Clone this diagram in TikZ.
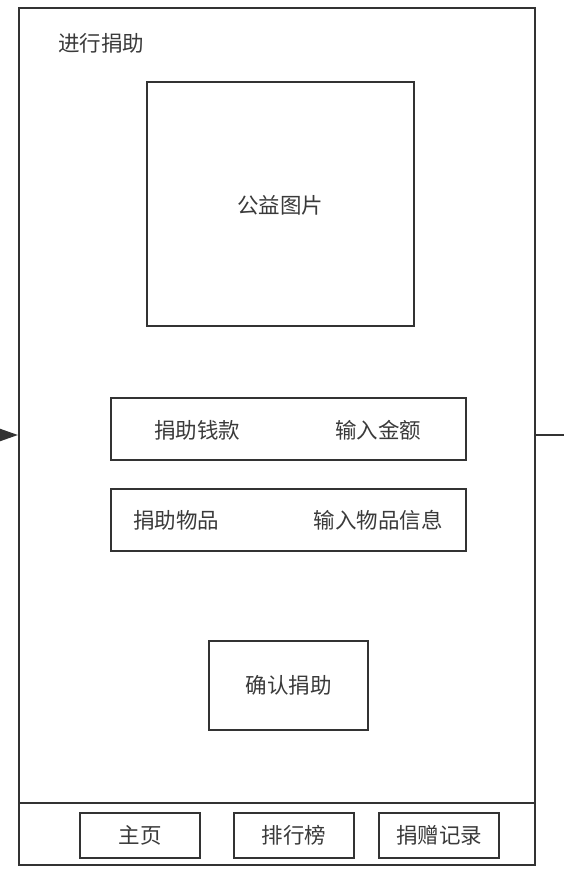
\documentclass[tikz,border=0pt]{standalone}
\usepackage{fontspec}
\setmainfont{Noto Sans CJK SC}
\usetikzlibrary{arrows.meta}
\definecolor{linegray}{HTML}{333333}
\definecolor{textgray}{HTML}{3A3A3A}

\begin{document}
\begin{tikzpicture}[x=1pt,y=-1pt,
		frame/.style={draw=linegray,line width=2pt,inner sep=0pt,anchor=north west},
		label/.style={text=textgray,font=\fontsize{21.5}{24}\selectfont,inner sep=0pt}]
			\useasboundingbox (0,0) rectangle (564,873);
			\node[frame,minimum width=516pt,minimum height=857pt] (screen) at (18,7) {};
			\draw[linegray,line width=2pt] (18,803)--(534,803);
			\node[label] (title) at (101,43) {进行捐助};
			\node[frame,minimum width=267pt,minimum height=244pt] (pic) at (146,81) {};
			\node[label] (pictext) at (280,205) {公益图片};
			\node[frame,minimum width=355pt,minimum height=62pt] (money) at (110,397) {};
			\node[label] (moneyname) at (197,430) {捐助钱款};
			\node[label] (moneyinput) at (378,430) {输入金额};
			\node[frame,minimum width=355pt,minimum height=62pt] (goods) at (110,488) {};
			\node[label] (goodsname) at (176,520) {捐助物品};
			\node[label] (goodsinput) at (378,520) {输入物品信息};
			\node[frame,minimum width=159pt,minimum height=89pt] (confirm) at (208,640) {};
			\node[label] (confirmtext) at (confirm.center) {确认捐助};
			% bottom bar
			\node[frame,minimum width=120pt,minimum height=45pt] (home) at (79,812) {};
			\node[label] at (home.center) {主页};
			\node[frame,minimum width=120pt,minimum height=45pt] (rank) at (233,812) {};
			\node[label] at (rank.center) {排行榜};
			\node[frame,minimum width=120pt,minimum height=45pt] (record) at (378,812) {};
			\node[label] at (record.center) {捐赠记录};
			% links in and out
			\coordinate (in) at (0,435);
			\coordinate (out) at (564,435);
			\draw[-{Triangle[length=18pt,width=12pt]},linegray,line width=2pt] (in)--(screen.west |- in);
			\draw[linegray,line width=2pt] (screen.east |- out)--(out);
		\end{tikzpicture}
\end{document}
